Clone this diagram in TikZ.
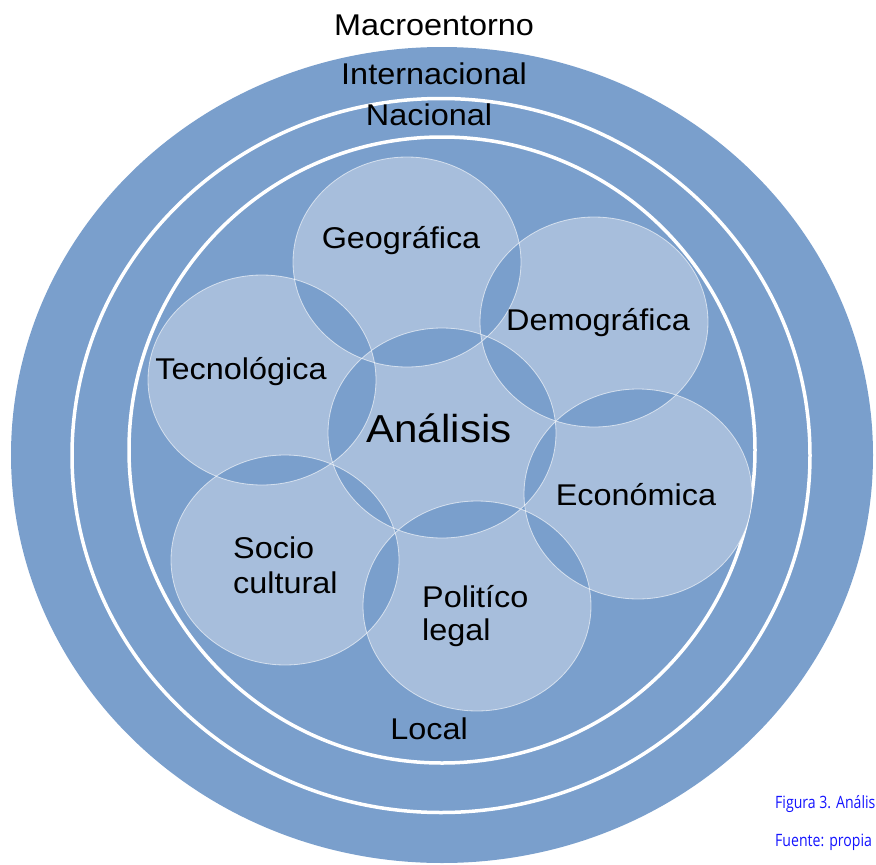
\documentclass[tikz,border=0pt]{standalone}
\usepackage{fontspec}
\newfontfamily\arialw[FakeStretch=1.08]{Liberation Sans}
\newfontfamily\capf[FakeStretch=0.83]{Open Sans}
\definecolor{ringblue}{RGB}{122,159,204}
\definecolor{lightblue}{RGB}{167,190,220}
\definecolor{capblue}{RGB}{20,20,255}
\begin{document}
\begin{tikzpicture}[x=1pt,y=-1pt,
  lab/.style={font=\arialw\fontsize{30}{36}\selectfont, inner sep=0pt, anchor=base, text=black},
  labw/.style={lab, anchor=base west},
  biglab/.style={lab, font=\arialw\fontsize{39}{47}\selectfont},
  caplab/.style={font=\capf\fontsize{17}{20}\selectfont, inner sep=0pt, anchor=base west, text=capblue},
  ringline/.style={draw=white, line width=3.5pt, fill=ringblue},
  circline/.style={draw=white, draw opacity=0.6, line width=0.8pt},
  er/.style={x radius=114pt, y radius=105pt}]
\useasboundingbox (0,0) rectangle (876,865);
% rings
\fill[ringblue] (442,455) ellipse [x radius=431pt, y radius=408pt];
\path[ringline] (441,455.5) ellipse [x radius=369pt, y radius=357pt];
\path[ringline] (442,450) ellipse [x radius=313pt, y radius=313pt];
% overlapping circles
\coordinate (cgeo) at (407,262);
\coordinate (cdem) at (594,322);
\coordinate (ctec) at (262,380);
\coordinate (cana) at (442,433);
\coordinate (ceco) at (638,494);
\coordinate (csoc) at (285,560);
\coordinate (cpol) at (477,606);
\fill[lightblue, even odd rule]
  (cgeo) ellipse [er] (cdem) ellipse [er] (ctec) ellipse [er] (cana) ellipse [er]
  (ceco) ellipse [er] (csoc) ellipse [er] (cpol) ellipse [er];
\foreach \c in {cgeo,cdem,ctec,cana,ceco,csoc,cpol}
  \path[circline] (\c) ellipse [er];
% labels
\node[lab] (macro) at (434,35) {Macroentorno};
\node[lab] (inter) at (434,84) {Internacional};
\node[lab] (nac) at (429,125) {Nacional};
\node[lab] (geo) at (401,248) {Geográfica};
\node[lab] (dem) at (598,330) {Demográfica};
\node[lab] (tec) at (241,379) {Tecnológica};
\node[biglab] (ana) at (439,442) {Análisis};
\node[lab] (eco) at (636,505) {Económica};
\node[labw] (soc1) at (233,558) {Socio};
\node[labw] (soc2) at (233,593) {cultural};
\node[labw] (pol1) at (422,607) {Politíco};
\node[labw] (pol2) at (422,640) {legal};
\node[lab] (loc) at (429,739) {Local};
\node[caplab] (fig) at (775,808) {Figura 3. Anális};
\node[caplab] (fue) at (775,846) {Fuente: propia};
\end{tikzpicture}
\end{document}
